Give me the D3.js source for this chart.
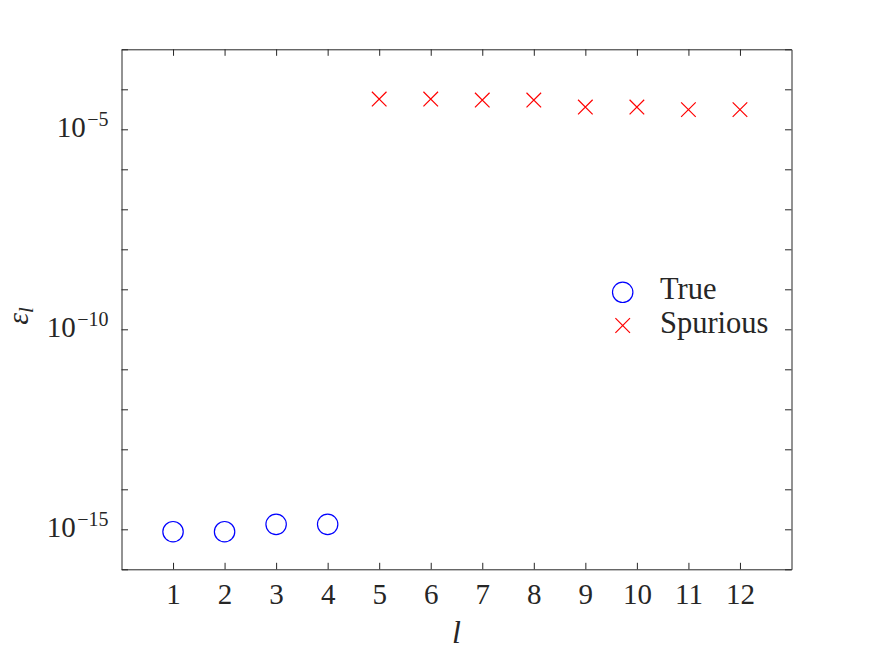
<!DOCTYPE html>
<html>
<head>
<meta charset="utf-8">
<script src="https://cdn.jsdelivr.net/npm/d3@7"></script>
<style>
  html, body { margin: 0; padding: 0; background: #fff; }
  svg { display: block; }
</style>
</head>
<body>
<script>
// ---- data ----
const trueL = [1, 2, 3, 4];
const trueErr = [8.7e-16, 8.7e-16, 1.33e-15, 1.33e-15];
const spurL = [5, 6, 7, 8, 9, 10, 11, 12];
const spurErr = [5.7e-5, 5.7e-5, 5.4e-5, 5.4e-5, 3.6e-5, 3.6e-5, 3.1e-5, 3.1e-5];
const xTicks = [1, 2, 3, 4, 5, 6, 7, 8, 9, 10, 11, 12];
const yTickExps = [-16, -15, -14, -13, -12, -11, -10, -9, -8, -7, -6, -5, -4, -3];
const yLabelExps = [-15, -10, -5];
const legendLabels = ["True", "Spurious"];

const W = 875, H = 656;
const L = 121.5, R = 791.5, T = 49.3, B = 569.3;
const axisColor = "#262626";
const FONT = "'Liberation Serif', monospace";

const svg = d3.select("body").append("svg").attr("width", W).attr("height", H)
  .style("font-family", FONT);

const x = d3.scaleLinear().domain([0, 13]).range([L, R]);
const y = d3.scaleLog().domain([1e-16, 1e-3]).range([B, T]);

const yTickVals = yTickExps.map(e => Math.pow(10, e));

function styleAxis(g) {
  g.attr("font-family", null);
  g.selectAll("path.domain").attr("stroke", axisColor).attr("stroke-width", 1);
  g.selectAll(".tick line").attr("stroke", axisColor).attr("stroke-width", 1);
}

// bottom axis
const gx = svg.append("g").attr("transform", `translate(0,${B})`)
  .call(d3.axisBottom(x).tickValues(xTicks).tickSizeInner(-6.5).tickSizeOuter(0).tickPadding(14).tickFormat(d3.format("d")));
styleAxis(gx);
gx.attr("font-size", null);
gx.selectAll(".tick text").attr("fill", axisColor)
  .style("font-size", "29px").style("font-family", FONT);

// top axis
const gxt = svg.append("g").attr("transform", `translate(0,${T})`)
  .call(d3.axisTop(x).tickValues(xTicks).tickSizeInner(-6.5).tickSizeOuter(0).tickFormat(""));
styleAxis(gxt);

// left axis
const gy = svg.append("g").attr("transform", `translate(${L},0)`)
  .call(d3.axisLeft(y).tickValues(yTickVals).tickSizeInner(-6.5).tickSizeOuter(0).tickFormat(""));
styleAxis(gy);

// right axis
const gyr = svg.append("g").attr("transform", `translate(${R},0)`)
  .call(d3.axisRight(y).tickValues(yTickVals).tickSizeInner(-6.5).tickSizeOuter(0).tickFormat(""));
styleAxis(gyr);

// y tick labels with superscripts
const ylab = svg.append("g");
yLabelExps.forEach(e => {
  const t = ylab.append("text")
    .attr("x", L - 13)
    .attr("y", y(Math.pow(10, e)) + 7.5)
    .attr("text-anchor", "end")
    .attr("fill", axisColor)
    .style("font-size", "29px")
    .style("font-family", FONT);
  t.append("tspan").text("10");
  t.append("tspan").style("font-size", "20px").attr("dy", -10.5).attr("dx", 1.5).text("\u2212" + Math.abs(e));
});

// data: circles
svg.append("g").selectAll("circle").data(trueL).join("circle")
  .attr("cx", d => x(d))
  .attr("cy", (d, i) => y(trueErr[i]))
  .attr("r", 10.2)
  .attr("fill", "none")
  .attr("stroke", "#0000ff")
  .attr("stroke-width", 1.2);

// data: crosses
const cs = 7.3;
const crossPath = `M${-cs},${-cs}L${cs},${cs}M${-cs},${cs}L${cs},${-cs}`;
svg.append("g").selectAll("path").data(spurL).join("path")
  .attr("transform", (d, i) => `translate(${x(d)},${y(spurErr[i])})`)
  .attr("d", crossPath)
  .attr("fill", "none")
  .attr("stroke", "#ff0000")
  .attr("stroke-width", 1.2);

// legend
const lg = svg.append("g");
lg.append("circle").attr("cx", 622.7).attr("cy", 292.3).attr("r", 10.2)
  .attr("fill", "none").attr("stroke", "#0000ff").attr("stroke-width", 1.2);
lg.append("path").attr("transform", "translate(622.7,325.5)").attr("d", crossPath)
  .attr("fill", "none").attr("stroke", "#ff0000").attr("stroke-width", 1.2);
lg.append("text").attr("x", 660).attr("y", 299.3).attr("fill", axisColor)
  .style("font-size", "30.5px").style("font-family", FONT).text(legendLabels[0]);
lg.append("text").attr("x", 660).attr("y", 333.3).attr("fill", axisColor)
  .style("font-size", "30.5px").style("font-family", FONT).text(legendLabels[1]);

// axis labels
svg.append("text")
  .attr("x", (L + R) / 2).attr("y", 643)
  .attr("text-anchor", "middle")
  .attr("fill", axisColor)
  .style("font-size", "32px").style("font-style", "italic")
  .style("font-family", FONT)
  .text("l");

const yl = svg.append("text")
  .attr("transform", "translate(28,316) rotate(-90)")
  .attr("text-anchor", "middle")
  .attr("fill", axisColor)
  .style("font-size", "30px").style("font-style", "italic")
  .style("font-family", FONT);
yl.append("tspan").text("\u03b5");
yl.append("tspan").style("font-size", "21px").attr("dy", 5).text("l");
</script>
</body>
</html>
